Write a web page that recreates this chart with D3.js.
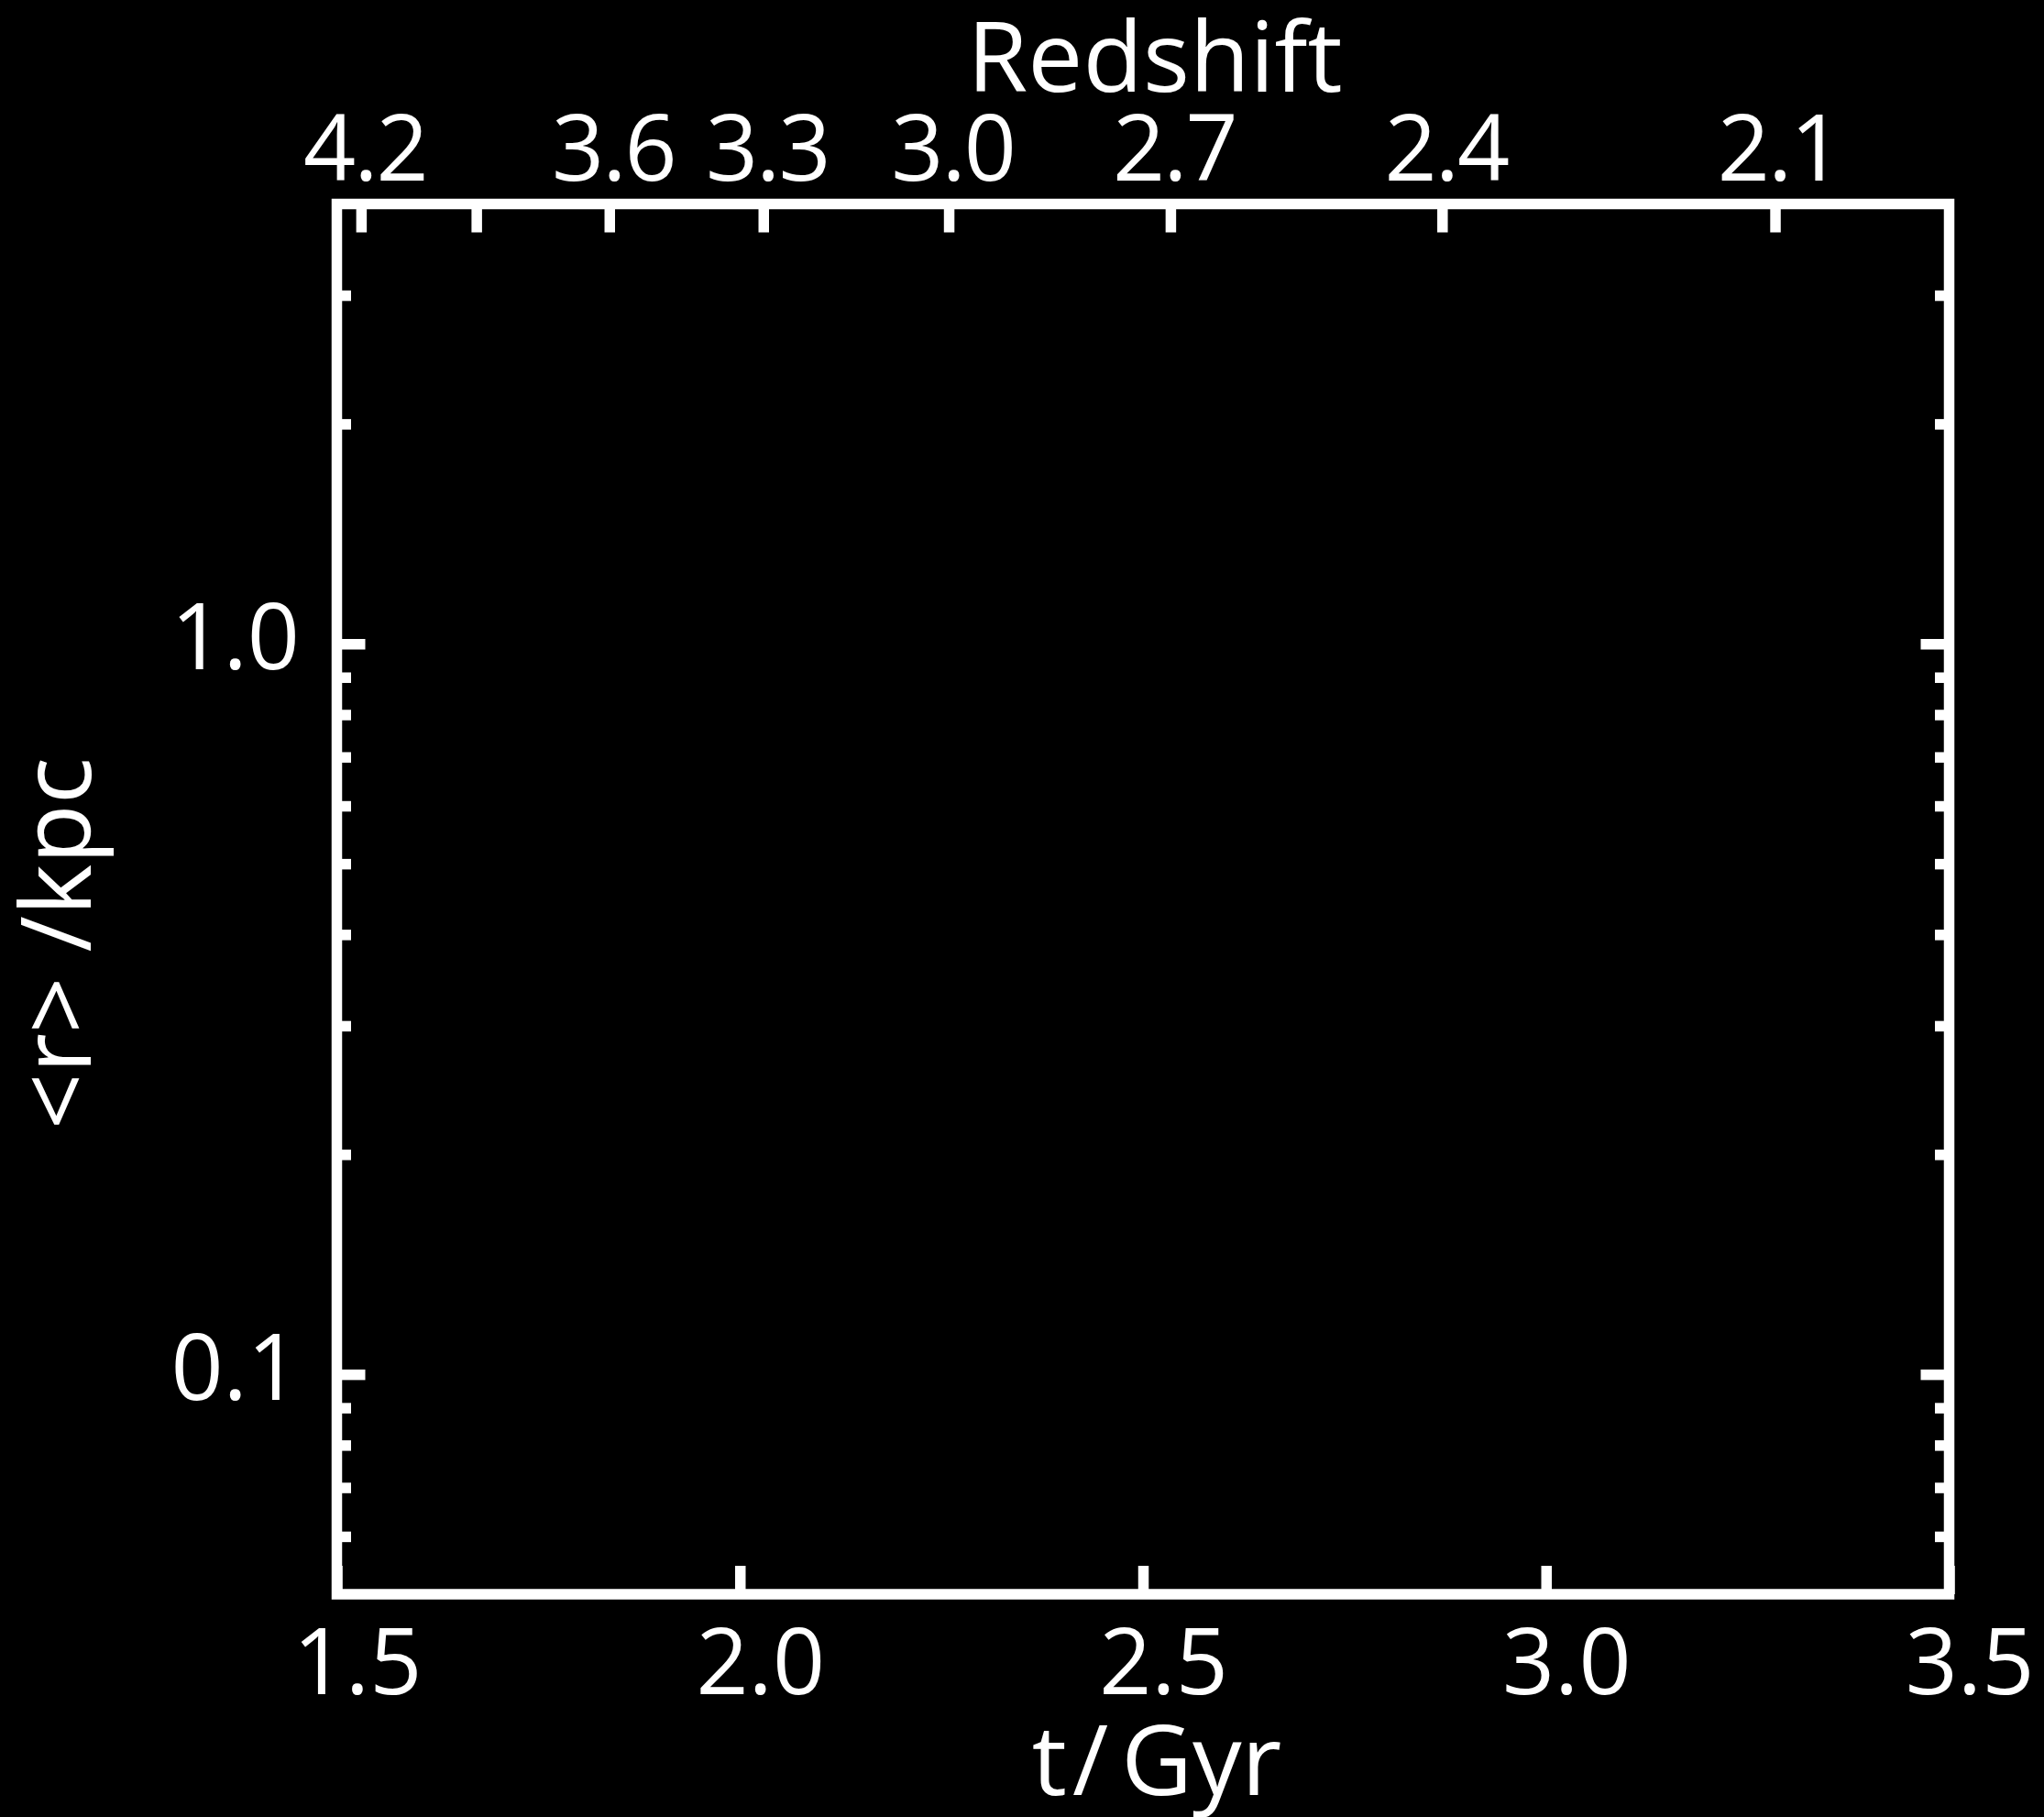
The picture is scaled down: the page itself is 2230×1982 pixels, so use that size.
<!DOCTYPE html>
<html>
<head>
<meta charset="utf-8">
<script src="https://cdn.jsdelivr.net/npm/d3@7"></script>
<style>
  html, body { margin: 0; padding: 0; background: #000; }
  svg { display: block; }
  text { font-family: "Open Sans", "Noto Sans", sans-serif; fill: #fff; }
</style>
</head>
<body>
<svg id="chart" width="2230" height="1982"></svg>
<script>
// Cosmic time axis (bottom) and its matching redshift axis (top)
const timeDomain = [1.5, 3.5];
const timeTicks = [1.5, 2.0, 2.5, 3.0, 3.5];

const redshiftTicks = [4.2, 3.9, 3.6, 3.3, 3.0, 2.7, 2.4, 2.1];
const redshiftAges = [1.530, 1.673, 1.838, 2.029, 2.259, 2.534, 2.871, 3.284];
const redshiftLabelled = [4.2, 3.6, 3.3, 3.0, 2.7, 2.4, 2.1];

// Mean radius axis, logarithmic
const radiusDomain = [0.05, 4];
const radiusMajor = [0.1, 1.0];
const radiusMinor = [0.06, 0.07, 0.08, 0.09, 0.2, 0.3, 0.4, 0.5, 0.6, 0.7, 0.8, 0.9, 2, 3];

const plotL = 367.5, plotR = 2126.5, plotT = 222.5, plotB = 1739;
const lw = 11.5, majorLen = 31, minorLen = 15.5;
const tickFont = 100, titleFont = 107;

const svg = d3.select("#chart");
svg.append("rect").attr("width", 2230).attr("height", 1982).attr("fill", "#000");

const x = d3.scaleLinear().domain(timeDomain).range([plotL, plotR]);
const y = d3.scaleLog().domain(radiusDomain).range([plotB, plotT]);

function styleAxis(g) {
  g.select(".domain").remove();
  g.selectAll(".tick line")
    .attr("stroke", "#fff")
    .attr("stroke-width", lw);
  g.selectAll(".tick text")
    .attr("fill", "#fff")
    .attr("font-family", null)
    .attr("font-size", null)
    .style("font-size", tickFont + "px");
}

// Bottom: time in Gyr
svg.append("g")
  .attr("transform", `translate(0,${plotB})`)
  .call(d3.axisBottom(x).tickValues(timeTicks).tickFormat(d3.format(".1f"))
    .tickSize(-majorLen).tickPadding(38))
  .call(styleAxis)
  .call(g => g.selectAll(".tick text").attr("dy", "0.71em").attr("dx", 22));

// Top: redshift ticks placed at the corresponding cosmic age
const zAt = new Map(redshiftAges.map((t, i) => [t, redshiftTicks[i]]));
svg.append("g")
  .attr("transform", `translate(0,${plotT})`)
  .call(d3.axisTop(x).tickValues(redshiftAges)
    .tickFormat(t => redshiftLabelled.includes(zAt.get(t)) ? d3.format(".1f")(zAt.get(t)) : "")
    .tickSize(-majorLen).tickPadding(26))
  .call(styleAxis)
  .call(g => g.selectAll(".tick text").attr("dx", 4).style("letter-spacing", "-2px"));

// Left: major and minor radius ticks
svg.append("g")
  .attr("transform", `translate(${plotL},0)`)
  .call(d3.axisLeft(y).tickValues(radiusMinor).tickFormat("").tickSize(-minorLen))
  .call(styleAxis);
svg.append("g")
  .attr("transform", `translate(${plotL},0)`)
  .call(d3.axisLeft(y).tickValues(radiusMajor).tickFormat(d3.format(".1f"))
    .tickSize(-majorLen).tickPadding(40.5))
  .call(styleAxis)
  .call(g => g.selectAll(".tick text").attr("dy", "0.27em"));

// Right: mirrored ticks, no labels
svg.append("g")
  .attr("transform", `translate(${plotR},0)`)
  .call(d3.axisRight(y).tickValues(radiusMinor).tickFormat("").tickSize(-minorLen))
  .call(styleAxis);
svg.append("g")
  .attr("transform", `translate(${plotR},0)`)
  .call(d3.axisRight(y).tickValues(radiusMajor).tickFormat("").tickSize(-majorLen))
  .call(styleAxis);

// Plot frame
svg.append("rect")
  .attr("x", plotL).attr("y", plotT)
  .attr("width", plotR - plotL).attr("height", plotB - plotT)
  .attr("fill", "none").attr("stroke", "#fff").attr("stroke-width", lw);

// Axis titles
svg.append("text")
  .attr("x", 1260).attr("y", 100)
  .attr("text-anchor", "middle")
  .style("font-size", titleFont + "px")
  .text("Redshift");

const xTitle = svg.append("text")
  .attr("x", 1262).attr("y", 1958)
  .attr("text-anchor", "middle")
  .style("font-size", titleFont + "px");
xTitle.append("tspan").text("t");
xTitle.append("tspan").attr("dx", 6).text("/");
xTitle.append("tspan").attr("dx", 14).text("Gyr");

svg.append("text")
  .attr("transform", "translate(99,1029) rotate(-90)")
  .attr("text-anchor", "middle")
  .style("font-size", titleFont + "px")
  .text("<r> /kpc");
</script>
</body>
</html>
